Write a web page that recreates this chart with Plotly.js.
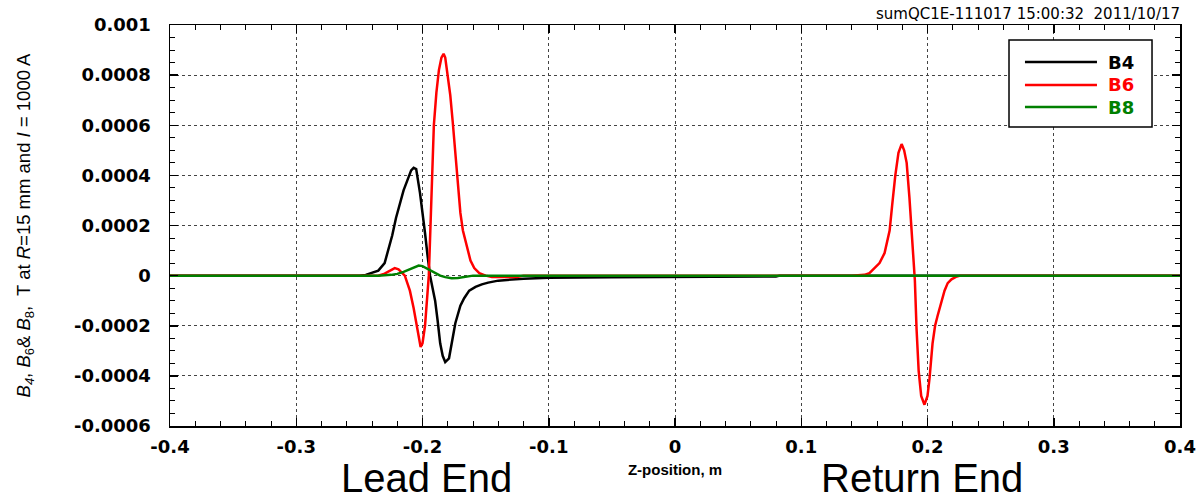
<!DOCTYPE html>
<html>
<head>
<meta charset="utf-8">
<script src="https://cdn.plot.ly/plotly-3.0.1.min.js"></script>
<style>html,body{margin:0;padding:0;background:#fff;}#chart{width:1197px;height:503px;}</style>
</head>
<body>
<div id="chart"></div>
<script>
// ---- Data ----
const seriesNames = ["B4", "B6", "B8"];
const seriesColors = ["#000000", "#ff0000", "#008000"];

const zB4 = [-0.4, -0.25, -0.245, -0.24, -0.235, -0.23, -0.227, -0.224, -0.221, -0.218, -0.215, -0.212, -0.209, -0.207, -0.205, -0.202, -0.2, -0.198, -0.196, -0.194, -0.192, -0.19, -0.188, -0.186, -0.184, -0.182, -0.179, -0.176, -0.174, -0.17, -0.167, -0.163, -0.158, -0.153, -0.148, -0.14, -0.13, -0.12, -0.11, -0.1, -0.05, -0.023, -0.02, 0.08, 0.083, 0.4];
const valB4 = [0, 0, 0.000003, 0.00001, 0.00002, 0.00005, 0.0001, 0.00016, 0.00023, 0.00029, 0.00034, 0.00038, 0.00042, 0.00043, 0.000425, 0.00033, 0.00026, 0.00017, 0.00008, 0, -0.00005, -0.0001, -0.00018, -0.00027, -0.00032, -0.000345, -0.00033, -0.00025, -0.00019, -0.00012, -0.00009, -0.00006, -0.000045, -0.000035, -0.000028, -0.00002, -0.000015, -0.000012, -0.00001, -0.000008, -0.000006, -0.000006, -0.000003, -0.000003, 0, 0];

const zB6 = [-0.4, -0.235, -0.23, -0.226, -0.222, -0.219, -0.216, -0.214, -0.212, -0.21, -0.207, -0.205, -0.203, -0.2015, -0.2, -0.198, -0.1965, -0.195, -0.194, -0.193, -0.192, -0.191, -0.189, -0.187, -0.185, -0.1833, -0.182, -0.18, -0.178, -0.176, -0.174, -0.172, -0.17, -0.168, -0.165, -0.162, -0.159, -0.155, -0.15, -0.145, -0.125, -0.12, 0.14, 0.15, 0.154, 0.158, 0.162, 0.166, 0.17, 0.172, 0.1745, 0.177, 0.1795, 0.1815, 0.1835, 0.1857, 0.1873, 0.189, 0.19, 0.1913, 0.193, 0.195, 0.1976, 0.2, 0.2016, 0.204, 0.206, 0.208, 0.211, 0.2135, 0.216, 0.219, 0.2225, 0.226, 0.4];
const valB6 = [0, 0, 0.000008, 0.00002, 0.00003, 0.000025, 0.00001, 0, -0.00003, -0.00006, -0.00013, -0.00019, -0.00025, -0.000285, -0.00027, -0.0002, -0.0001, 0, 0.00015, 0.0003, 0.00045, 0.0006, 0.00073, 0.00082, 0.00087, 0.000885, 0.00087, 0.0008, 0.00072, 0.00061, 0.0005, 0.00038, 0.00025, 0.00018, 0.00012, 0.00006, 0.00003, 0.00001, 0, -0.000005, -0.000005, 0, 0, 0.000003, 0.00001, 0.00003, 0.00005, 0.00009, 0.00018, 0.00028, 0.0004, 0.00049, 0.000525, 0.0005, 0.00045, 0.00031, 0.00018, 0.00005, -0.00002, -0.00021, -0.00038, -0.00048, -0.000515, -0.00048, -0.00041, -0.00027, -0.0002, -0.00016, -0.0001, -0.00006, -0.00003, -0.000015, -0.000005, 0, 0];

const zB8 = [-0.4, -0.235, -0.225, -0.22, -0.215, -0.21, -0.206, -0.203, -0.2, -0.197, -0.194, -0.19, -0.186, -0.182, -0.177, -0.172, -0.167, -0.16, 0.4];
const valB8 = [0, 0, 0.000003, 0.000007, 0.000015, 0.000025, 0.000035, 0.00004, 0.000038, 0.00003, 0.00002, 0.00001, 0, -0.000006, -0.00001, -0.000009, -0.000004, 0, 0];

const xTickVals = [-0.4, -0.3, -0.2, -0.1, 0, 0.1, 0.2, 0.3, 0.4];
const xTickText = ["-0.4", "-0.3", "-0.2", "-0.1", "0", "0.1", "0.2", "0.3", "0.4"];
const yTickVals = [-0.0006, -0.0004, -0.0002, 0, 0.0002, 0.0004, 0.0006, 0.0008, 0.001];
const yTickText = ["-0.0006", "-0.0004", "-0.0002", "0", "0.0002", "0.0004", "0.0006", "0.0008", "0.001"];

const headerText = "sumQC1E-111017 15:00:32  2011/10/17";
const xTitle = "Z-position, m";
const yTitle = "<i>B</i><sub><i>4</i></sub>, <i>B</i><sub>6</sub>& <i>B</i><sub>8</sub>,  T at <i>R</i>=15 mm and <i>I</i> = 1000 A";
const regionLabels = ["Lead End", "Return End"];
const regionLabelZ = [-0.197, 0.196];

// ---- Build ----
const zs = [zB4, zB6, zB8];
const vals = [valB4, valB6, valB8];
const traces = seriesNames.map((n, i) => ({
  type: "scatter", mode: "lines", name: n,
  x: zs[i], y: vals[i],
  line: {color: seriesColors[i], width: 2.5},
  showlegend: false
}));

const tickFont = {family: "DejaVu Sans", size: 18, color: "#000", weight: "bold"};
const gridCol = "#444";

// manual legend (paper coords)
const shapes = [{type: "rect", xref: "paper", yref: "paper", x0: 0.8307, x1: 0.9723, y0: 0.7456, y1: 0.9626,
  line: {color: "#000", width: 1.5}, fillcolor: "#fff", layer: "above"}];
const annotations = [];
const legY = [0.9077, 0.8504, 0.7955];
seriesNames.forEach((n, i) => {
  shapes.push({type: "line", xref: "paper", yref: "paper", x0: 0.8465, x1: 0.9178, y0: legY[i], y1: legY[i],
    line: {color: seriesColors[i], width: 2.5}, layer: "above"});
  annotations.push({xref: "paper", yref: "paper", x: 0.9267, y: legY[i], xanchor: "left", yanchor: "middle",
    text: "<b>" + n + "</b>", showarrow: false, font: {family: "DejaVu Sans", size: 18, color: seriesColors[i]}});
});
annotations.push({xref: "paper", yref: "paper", x: 1.002, y: 1.027, xanchor: "right", yanchor: "middle",
  text: headerText, showarrow: false, font: {family: "DejaVu Sans", size: 15, color: "#000"}});
regionLabels.forEach((t, i) => {
  annotations.push({xref: "x", yref: "paper", x: regionLabelZ[i], y: -0.19, xanchor: "center", yanchor: "bottom",
    text: t, showarrow: false, font: {family: "Liberation Sans Narrow, Liberation Sans", size: 40, color: "#000"}});
});

const layout = {
  width: 1197, height: 503,
  margin: {l: 170, r: 17, t: 25, b: 77},
  paper_bgcolor: "#fff", plot_bgcolor: "#fff",
  showlegend: false,
  xaxis: {
    range: [-0.4, 0.4], tickvals: xTickVals, ticktext: xTickText,
    ticks: "inside", ticklen: 8, tickwidth: 1.5, tickcolor: "#000",
    showline: true, linecolor: "#000", linewidth: 1.5, mirror: "ticks",
    showgrid: true, gridcolor: gridCol, griddash: "dot", gridwidth: 1, zeroline: false,
    minor: {dtick: 0.02, tick0: 0, ticks: "inside", ticklen: 5, tickwidth: 1, tickcolor: "#000", showgrid: false},
    tickfont: tickFont, ticklabelstandoff: 4,
    title: {text: "<b>" + xTitle + "</b>", font: {family: "Liberation Sans", size: 15, color: "#000"}, standoff: 8}
  },
  yaxis: {
    range: [-0.0006, 0.001], tickvals: yTickVals, ticktext: yTickText,
    ticks: "inside", ticklen: 8, tickwidth: 1.5, tickcolor: "#000",
    showline: true, linecolor: "#000", linewidth: 1.5, mirror: "ticks",
    showgrid: true, gridcolor: gridCol, griddash: "dot", gridwidth: 1, zeroline: false,
    minor: {dtick: 0.00005, tick0: 0, ticks: "inside", ticklen: 5, tickwidth: 1, tickcolor: "#000", showgrid: false},
    tickfont: tickFont, ticklabelstandoff: 14,
    title: {text: yTitle, font: {family: "Liberation Sans", size: 18.5, color: "#000"}, standoff: 38}
  },
  shapes: shapes,
  annotations: annotations
};

Plotly.newPlot("chart", traces, layout, {displayModeBar: false, staticPlot: true});
</script>
</body>
</html>
